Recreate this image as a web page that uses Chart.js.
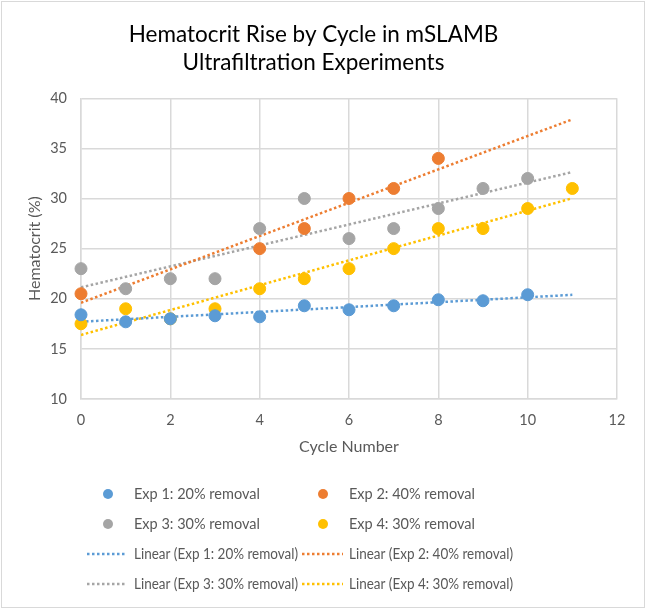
<!DOCTYPE html>
<html>
<head>
<meta charset="utf-8">
<script src="https://cdn.jsdelivr.net/npm/chart.js@4"></script>
<style>
  html, body { margin: 0; padding: 0; background: #fff; }
  canvas { display: block; }
</style>
</head>
<body>
<canvas id="chart" width="646" height="609"></canvas>
<script>
// data
const seriesNames = ['Exp 1: 20% removal', 'Exp 2: 40% removal', 'Exp 3: 30% removal', 'Exp 4: 30% removal'];
const seriesColors = ['#5B9BD5', '#ED7D31', '#A5A5A5', '#FFC000'];

const exp1Cycles = [0, 1, 2, 3, 4, 5, 6, 7, 8, 9, 10];
const exp1Hct = [18.4, 17.7, 18.0, 18.3, 18.2, 19.3, 18.9, 19.3, 19.9, 19.8, 20.4];

const exp2Cycles = [0, 4, 5, 6, 7, 8];
const exp2Hct = [20.5, 25, 27, 30, 31, 34];

const exp3Cycles = [0, 1, 2, 3, 4, 5, 6, 7, 8, 9, 10];
const exp3Hct = [23, 21, 22, 22, 27, 30, 26, 27, 29, 31, 32];

const exp4Cycles = [0, 1, 2, 3, 4, 5, 6, 7, 8, 9, 10, 11];
const exp4Hct = [17.5, 19, 18, 19, 21, 22, 23, 25, 27, 27, 29, 31];

// trendlines span this cycle range
const trendRange = [0, 11];

const FONT = 'Lato, "Open Sans", sans-serif';
const GREY_TEXT = '#595959';
const GRID = '#D9D9D9';

const allCycles = [exp1Cycles, exp2Cycles, exp3Cycles, exp4Cycles];
const allHct = [exp1Hct, exp2Hct, exp3Hct, exp4Hct];

// least squares fit, same as a linear trendline
function linearFit(xs, ys) {
  const n = xs.length;
  const mx = xs.reduce((a, b) => a + b, 0) / n;
  const my = ys.reduce((a, b) => a + b, 0) / n;
  let sxy = 0, sxx = 0;
  for (let i = 0; i < n; i++) {
    sxy += (xs[i] - mx) * (ys[i] - my);
    sxx += (xs[i] - mx) * (xs[i] - mx);
  }
  const slope = sxy / sxx;
  return { slope, intercept: my - slope * mx };
}

const pointSets = seriesNames.map((name, i) => ({
  type: 'scatter',
  label: name,
  data: allCycles[i].map((x, j) => ({ x, y: allHct[i][j] })),
  backgroundColor: seriesColors[i],
  borderColor: seriesColors[i],
  pointRadius: 6,
  pointHoverRadius: 6,
  clip: false,
  order: 0
}));

const trendSets = seriesNames.map((name, i) => {
  const fit = linearFit(allCycles[i], allHct[i]);
  return {
    type: 'line',
    label: 'Linear (' + name + ')',
    data: trendRange.map(x => ({ x, y: fit.intercept + fit.slope * x })),
    borderColor: seriesColors[i],
    borderWidth: 2.5,
    borderDash: [2.5, 2.5],
    pointRadius: 0,
    fill: false,
    order: 1
  };
});

const frame = {
  id: 'frame',
  beforeDraw(chart) {
    const c = chart.ctx;
    c.save();
    c.fillStyle = '#fff';
    c.fillRect(0, 0, chart.width, chart.height);
    c.strokeStyle = GRID;
    c.lineWidth = 1;
    c.strokeRect(1.5, 1.5, chart.width - 3, chart.height - 3);
    c.restore();
  }
};

// two-column legend like the Excel one
const legendGrid = {
  id: 'legendGrid',
  afterDraw(chart) {
    const c = chart.ctx;
    const rows = [494, 524, 554, 584];
    const cols = [{ mark: 108, lineL: 87, lineR: 127, text: 134 }, { mark: 323, lineL: 302, lineR: 343, text: 349 }];
    const items = pointSets.concat(trendSets);
    c.save();
    c.font = '14.5px ' + FONT;
    c.textBaseline = 'middle';
    items.forEach((ds, k) => {
      const y = rows[Math.floor(k / 2)];
      const col = cols[k % 2];
      if (ds.type === 'scatter') {
        c.beginPath();
        c.fillStyle = ds.backgroundColor;
        c.arc(col.mark, y, 5, 0, Math.PI * 2);
        c.fill();
      } else {
        c.beginPath();
        c.strokeStyle = ds.borderColor;
        c.lineWidth = 2.5;
        c.setLineDash([2.5, 2.5]);
        c.moveTo(col.lineL, y);
        c.lineTo(col.lineR, y);
        c.stroke();
        c.setLineDash([]);
      }
      c.fillStyle = GREY_TEXT;
      c.fillText(ds.label, col.text, y, 164);
    });
    c.restore();
  }
};

new Chart(document.getElementById('chart'), {
  type: 'scatter',
  data: { datasets: pointSets.concat(trendSets) },
  options: {
    responsive: false,
    animation: false,
    layout: { padding: { top: 0, left: 10, right: 29, bottom: 149 } },
    plugins: {
      legend: { display: false },
      tooltip: { enabled: false },
      title: {
        display: true,
        text: ['Hematocrit Rise by Cycle in mSLAMB', 'Ultrafiltration Experiments'],
        color: '#000',
        font: { family: FONT, size: 22.5, weight: 'normal', lineHeight: 1.25 },
        padding: { top: 21, bottom: 21 }
      }
    },
    scales: {
      x: {
        type: 'linear',
        min: 0,
        max: 12,
        ticks: { stepSize: 2, color: GREY_TEXT, padding: 13, font: { family: FONT, size: 14.5 } },
        grid: { color: GRID, lineWidth: 1.5, drawTicks: false },
        border: { color: GRID, width: 1.5 },
        title: {
          display: true,
          text: 'Cycle Number',
          color: GREY_TEXT,
          font: { family: FONT, size: 16 },
          padding: { top: 4, bottom: 4 }
        },
        afterFit(scale) { scale.height = 61; }
      },
      y: {
        min: 10,
        max: 40,
        ticks: { stepSize: 5, color: GREY_TEXT, padding: 14, font: { family: FONT, size: 14.5 } },
        grid: { color: GRID, lineWidth: 1.5, drawTicks: false },
        border: { color: GRID, width: 1.5 },
        title: {
          display: true,
          text: 'Hematocrit (%)',
          color: GREY_TEXT,
          font: { family: FONT, size: 16 },
          padding: { top: 15, bottom: 4 }
        },
        afterFit(scale) { scale.width = 71; }
      }
    }
  },
  plugins: [frame, legendGrid]
});
</script>
</body>
</html>
